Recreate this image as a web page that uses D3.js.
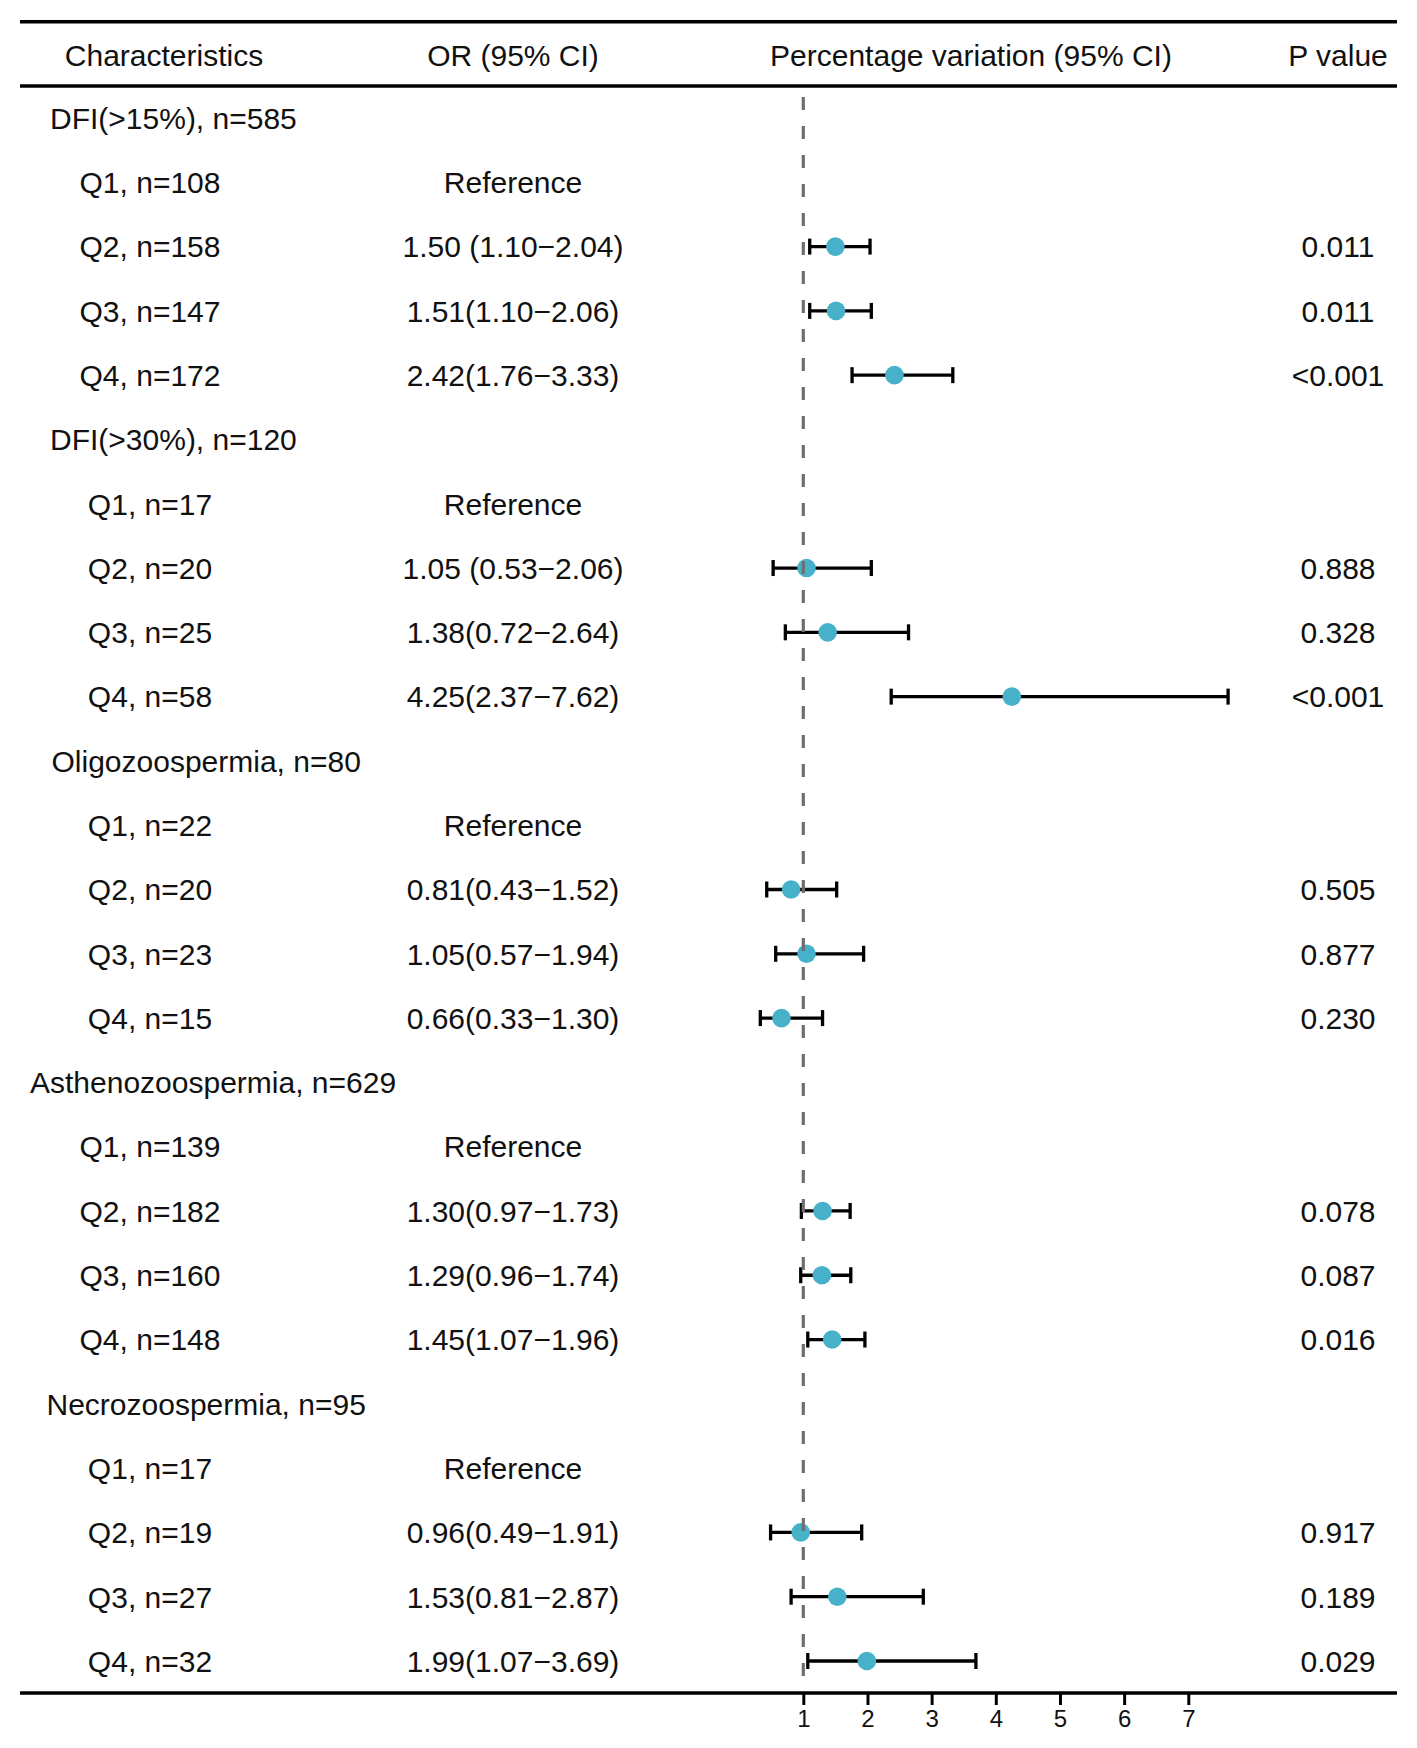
<!DOCTYPE html>
<html>
<head>
<meta charset="utf-8">
<script src="https://cdn.jsdelivr.net/npm/d3@7"></script>
<style>
  body { margin: 0; background: #fff; }
  text { font-family: "Liberation Sans", Arial, sans-serif; fill: #111; }
</style>
</head>
<body>
<div id="chart"></div>
<script>
const canvas_w = 1417;
const canvas_h = 1748;

// ---- data ----
const headers = [ 'Characteristics', 'OR (95% CI)', 'Percentage variation (95% CI)', 'P value' ];

const characteristics = [
  'DFI(>15%), n=585', 'Q1, n=108', 'Q2, n=158', 'Q3, n=147', 'Q4, n=172',
  'DFI(>30%), n=120', 'Q1, n=17', 'Q2, n=20', 'Q3, n=25', 'Q4, n=58',
  'Oligozoospermia, n=80', 'Q1, n=22', 'Q2, n=20', 'Q3, n=23', 'Q4, n=15',
  'Asthenozoospermia, n=629', 'Q1, n=139', 'Q2, n=182', 'Q3, n=160', 'Q4, n=148',
  'Necrozoospermia, n=95', 'Q1, n=17', 'Q2, n=19', 'Q3, n=27', 'Q4, n=32'
];

const orText = [
  '', 'Reference', '1.50 (1.10\u22122.04)', '1.51(1.10\u22122.06)', '2.42(1.76\u22123.33)',
  '', 'Reference', '1.05 (0.53\u22122.06)', '1.38(0.72\u22122.64)', '4.25(2.37\u22127.62)',
  '', 'Reference', '0.81(0.43\u22121.52)', '1.05(0.57\u22121.94)', '0.66(0.33\u22121.30)',
  '', 'Reference', '1.30(0.97\u22121.73)', '1.29(0.96\u22121.74)', '1.45(1.07\u22121.96)',
  '', 'Reference', '0.96(0.49\u22121.91)', '1.53(0.81\u22122.87)', '1.99(1.07\u22123.69)'
];

const orValue = [
  null, null, 1.50, 1.51, 2.42,
  null, null, 1.05, 1.38, 4.25,
  null, null, 0.81, 1.05, 0.66,
  null, null, 1.30, 1.29, 1.45,
  null, null, 0.96, 1.53, 1.99
];
const ciLow = [
  null, null, 1.10, 1.10, 1.76,
  null, null, 0.53, 0.72, 2.37,
  null, null, 0.43, 0.57, 0.33,
  null, null, 0.97, 0.96, 1.07,
  null, null, 0.49, 0.81, 1.07
];
const ciHigh = [
  null, null, 2.04, 2.06, 3.33,
  null, null, 2.06, 2.64, 7.62,
  null, null, 1.52, 1.94, 1.30,
  null, null, 1.73, 1.74, 1.96,
  null, null, 1.91, 2.87, 3.69
];

const pValues = [
  '', '', '0.011', '0.011', '<0.001',
  '', '', '0.888', '0.328', '<0.001',
  '', '', '0.505', '0.877', '0.230',
  '', '', '0.078', '0.087', '0.016',
  '', '', '0.917', '0.189', '0.029'
];

const xTicks = [ 1, 2, 3, 4, 5, 6, 7 ];

// ---- layout ----
const lineLeft = 20, lineRight = 1397;
const fontSize = 30;
const groupLeft = { 0: 50, 5: 50, 10: 51.5, 15: 30, 20: 46.5 };
const colX = { label: 150, or: 513, plot: 971, p: 1338 };
const dotColour = '#47b1c9';

let svg = d3.select( '#chart' )
            .append( 'svg' )
            .attr( 'width', canvas_w )
            .attr( 'height', canvas_h );

let rowY = d3.scalePoint()
             .domain( d3.range( characteristics.length ) )
             .range( [ 118, 1661 ] );

let x = d3.scaleLinear()
          .domain( [ 1, 7 ] )
          .range( [ 803.3, 1188.3 ] );

const axisY = 1693;
const baseShift = fontSize * 0.36;

// header rules
[ 21.7, 86 ].forEach( function ( y ) {
  svg.append( 'line' )
     .attr( 'x1', lineLeft ).attr( 'x2', lineRight )
     .attr( 'y1', y ).attr( 'y2', y )
     .attr( 'stroke', '#000' ).attr( 'stroke-width', 3.5 );
});

// header text
svg.selectAll( 'text.header' )
   .data( headers )
   .enter()
   .append( 'text' )
   .attr( 'class', 'header' )
   .attr( 'x', function ( d, i ) { return [ 164, colX.or, colX.plot, colX.p ][ i ]; } )
   .attr( 'y', 55 + baseShift )
   .attr( 'text-anchor', 'middle' )
   .attr( 'font-size', fontSize )
   .text( function ( d ) { return d; } );

// characteristic labels
svg.selectAll( 'text.label' )
   .data( characteristics )
   .enter()
   .append( 'text' )
   .attr( 'class', 'label' )
   .attr( 'x', function ( d, i ) { return i in groupLeft ? groupLeft[ i ] : colX.label; } )
   .attr( 'y', function ( d, i ) { return rowY( i ) + baseShift; } )
   .attr( 'text-anchor', function ( d, i ) { return i in groupLeft ? 'start' : 'middle'; } )
   .attr( 'font-size', fontSize )
   .text( function ( d ) { return d; } );

// OR text
svg.selectAll( 'text.or' )
   .data( orText )
   .enter()
   .append( 'text' )
   .attr( 'class', 'or' )
   .attr( 'x', colX.or )
   .attr( 'y', function ( d, i ) { return rowY( i ) + baseShift; } )
   .attr( 'text-anchor', 'middle' )
   .attr( 'font-size', fontSize )
   .text( function ( d ) { return d; } );

// P values
svg.selectAll( 'text.p' )
   .data( pValues )
   .enter()
   .append( 'text' )
   .attr( 'class', 'p' )
   .attr( 'x', colX.p )
   .attr( 'y', function ( d, i ) { return rowY( i ) + baseShift; } )
   .attr( 'text-anchor', 'middle' )
   .attr( 'font-size', fontSize )
   .text( function ( d ) { return d; } );

// error bars
let rows = d3.range( characteristics.length ).filter( function ( i ) { return orValue[ i ] !== null; } );

let bars = svg.append( 'g' ).attr( 'stroke', '#000' ).attr( 'stroke-width', 3.3 );
bars.selectAll( 'line.ci' )
    .data( rows )
    .enter()
    .append( 'line' )
    .attr( 'x1', function ( i ) { return x( ciLow[ i ] ); } )
    .attr( 'x2', function ( i ) { return x( ciHigh[ i ] ); } )
    .attr( 'y1', function ( i ) { return rowY( i ); } )
    .attr( 'y2', function ( i ) { return rowY( i ); } );

[ ciLow, ciHigh ].forEach( function ( arr ) {
  bars.selectAll( null )
      .data( rows )
      .enter()
      .append( 'line' )
      .attr( 'x1', function ( i ) { return x( arr[ i ] ); } )
      .attr( 'x2', function ( i ) { return x( arr[ i ] ); } )
      .attr( 'y1', function ( i ) { return rowY( i ) - 8; } )
      .attr( 'y2', function ( i ) { return rowY( i ) + 8; } );
});

// points
svg.selectAll( 'circle' )
   .data( rows )
   .enter()
   .append( 'circle' )
   .attr( 'cx', function ( i ) { return x( orValue[ i ] ); } )
   .attr( 'cy', function ( i ) { return rowY( i ); } )
   .attr( 'r', 9.3 )
   .attr( 'fill', dotColour );

// reference line
svg.append( 'line' )
   .attr( 'x1', x( 1 ) ).attr( 'x2', x( 1 ) )
   .attr( 'y1', 97 ).attr( 'y2', axisY )
   .attr( 'stroke', '#6e6e6e' )
   .attr( 'stroke-width', 3.2 )
   .attr( 'stroke-dasharray', '13,16' );

// bottom rule + axis
svg.append( 'line' )
   .attr( 'x1', lineLeft ).attr( 'x2', lineRight )
   .attr( 'y1', axisY ).attr( 'y2', axisY )
   .attr( 'stroke', '#000' ).attr( 'stroke-width', 3.5 );

let axis = svg.append( 'g' )
              .attr( 'transform', 'translate(0,' + axisY + ')' )
              .call( d3.axisBottom( x ).tickValues( xTicks ).tickSize( 12 ).tickPadding( 5 ).tickFormat( d3.format( 'd' ) ) );
axis.select( '.domain' ).remove();
axis.selectAll( '.tick line' ).attr( 'stroke', '#000' ).attr( 'stroke-width', 3 );
axis.selectAll( '.tick text' )
    .attr( 'font-size', 24 )
    .attr( 'font-family', '"Liberation Sans", Arial, sans-serif' )
    .attr( 'fill', '#111' );
</script>
</body>
</html>
